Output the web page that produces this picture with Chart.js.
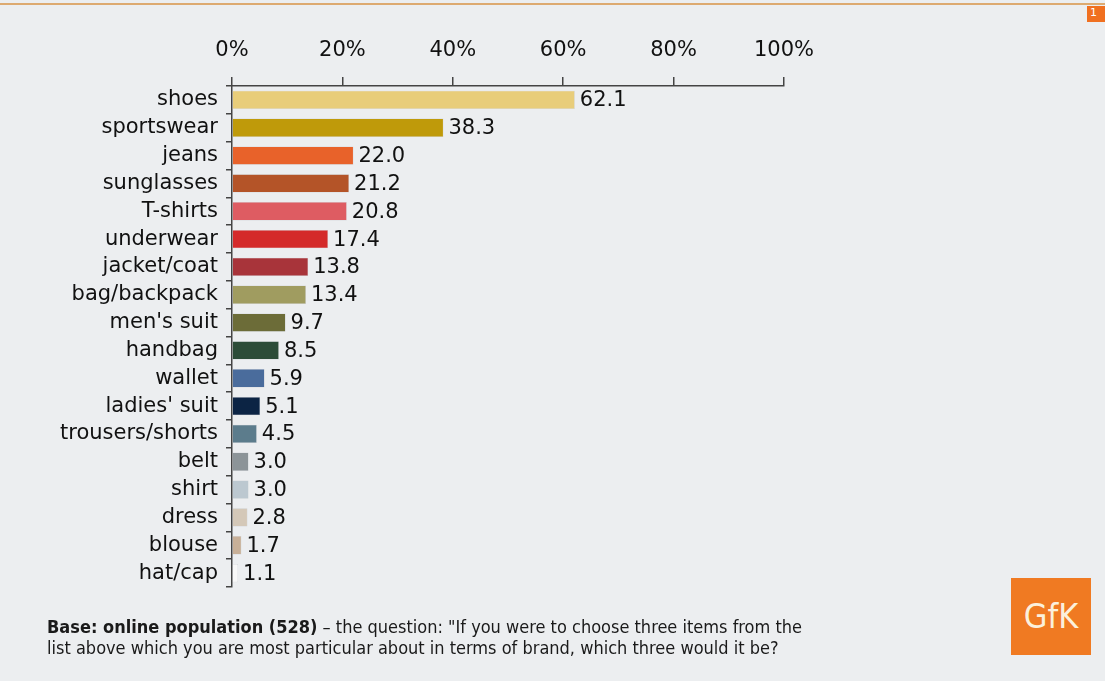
<!DOCTYPE html>
<html>
<head>
<meta charset="utf-8">
<script src="https://cdn.jsdelivr.net/npm/chart.js@4"></script>
<style>
  html, body { margin: 0; padding: 0; background: #eceef0; }
  #wrap { position: relative; width: 1105px; height: 681px; overflow: hidden; }
  #topline { position: absolute; left: 0; top: 3px; width: 1105px; height: 2px; background: #ddaa70; }
  #pagebox { position: absolute; left: 1087px; top: 6px; width: 18px; height: 16px; background: #f07020; color: #fff; font: 11px "DejaVu Sans"; padding-left: 3px; box-sizing: border-box; }
  #grafico { position: absolute; left: 0; top: 0; }
  #nota { position: absolute; left: 47px; top: 616px; font-family: "DejaVu Sans Condensed", "DejaVu Sans"; font-size: 18px; line-height: 21px; color: #1a1a1a; }
  #logo { position: absolute; left: 1011px; top: 578px; width: 80px; height: 77px; background: #f07a22; color: #fbf0dc; font: 34px "DejaVu Sans Condensed", "DejaVu Sans"; text-align: center; line-height: 77px; }
</style>
</head>
<body>
<div id="wrap">
  <div id="topline"></div>
  <div id="pagebox">1</div>
  <canvas id="grafico" width="1105" height="681"></canvas>
  <div id="nota"><b>Base: online population (528)</b> – the question: "If you were to choose three items from the<br>list above which you are most particular about in terms of brand, which three would it be?</div>
  <div id="logo">GfK</div>
</div>
<script>
const categorias = ['shoes', 'sportswear', 'jeans', 'sunglasses', 'T-shirts', 'underwear', 'jacket/coat', 'bag/backpack', "men's suit", 'handbag', 'wallet', "ladies' suit", 'trousers/shorts', 'belt', 'shirt', 'dress', 'blouse', 'hat/cap'];
const valores = [62.1, 38.3, 22.0, 21.2, 20.8, 17.4, 13.8, 13.4, 9.7, 8.5, 5.9, 5.1, 4.5, 3.0, 3.0, 2.8, 1.7, 1.1];
const colores = ['#e8cd7a', '#bf9a0a', '#e8622a', '#b45428', '#de5c62', '#d42a2a', '#a8343a', '#a09c60', '#6c6c38', '#2c4c38', '#4a6c9c', '#0c2444', '#5c7c8c', '#8c9498', '#bcc8d0', '#d4c8b8', '#c8b098', '#f8f8f8'];
const marcasEje = [0, 20, 40, 60, 80, 100];

const etiquetasValor = {
    id: 'etiquetasValor',
    afterDatasetsDraw(chart) {
        const ctx = chart.ctx;
        const meta = chart.getDatasetMeta(0);
        ctx.save();
        ctx.font = '21px "DejaVu Sans"';
        ctx.fillStyle = '#111';
        ctx.textBaseline = 'middle';
        ctx.textAlign = 'left';
        meta.data.forEach((bar, i) => {
            ctx.fillText(valores[i].toFixed(1), bar.x + 5, bar.y + 1);
        });
        ctx.restore();
    }
};

const contexto = document.getElementById('grafico').getContext('2d');
new Chart(contexto, {
    type: 'bar',
    data: {
        labels: categorias,
        datasets: [{
            data: valores,
            backgroundColor: colores,
            borderColor: '#c8cccf',
            borderWidth: 0.5,
            barPercentage: 0.66,
            categoryPercentage: 1
        }]
    },
    options: {
        indexAxis: 'y',
        responsive: false,
        animation: false,
        layout: { padding: { left: 0, right: 321, top: 0, bottom: 94 } },
        plugins: { legend: { display: false }, tooltip: { enabled: false } },
        scales: {
            x: {
                position: 'top',
                min: 0,
                max: 100,
                afterBuildTicks(scale) { scale.ticks = marcasEje.map(v => ({ value: v })); },
                afterFit(scale) { scale.height = 86; },
                border: { display: true, color: '#444', width: 1.5 },
                grid: { drawOnChartArea: false, drawTicks: true, tickLength: 9, color: '#444', lineWidth: 1.5 },
                ticks: {
                    padding: 14,
                    color: '#111',
                    font: { family: 'DejaVu Sans', size: 21 },
                    callback: v => v + '%'
                }
            },
            y: {
                afterFit(scale) { scale.width = 232; },
                border: { display: true, color: '#444', width: 1.5 },
                grid: { drawOnChartArea: false, drawTicks: true, offset: true, tickLength: 6, color: '#444', lineWidth: 1.5 },
                ticks: {
                    autoSkip: false,
                    padding: 8,
                    color: '#111',
                    font: { family: 'DejaVu Sans', size: 21 }
                }
            }
        }
    },
    plugins: [etiquetasValor]
});
</script>
</body>
</html>
